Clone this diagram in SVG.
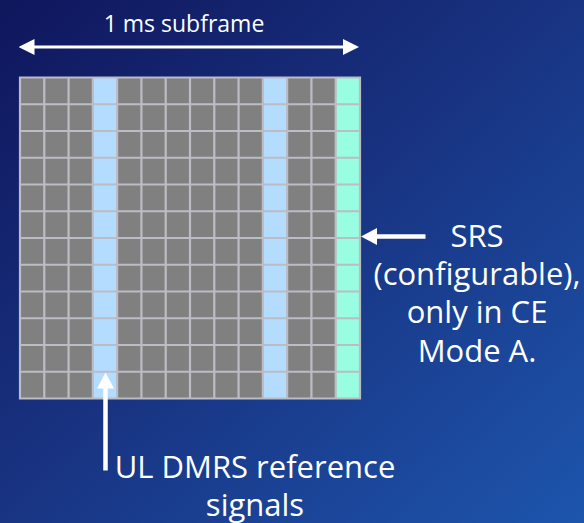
<svg xmlns="http://www.w3.org/2000/svg" width="584" height="523" viewBox="0 0 584 523">
  <defs>
    <linearGradient id="bg" x1="0" y1="0" x2="1" y2="1">
      <stop offset="0" stop-color="#0f165c"/>
      <stop offset="0.45" stop-color="#18317f"/>
      <stop offset="1" stop-color="#1d55ad"/>
    </linearGradient>
    <marker id="head" viewBox="0 0 16 16" refX="0.5" refY="8" markerWidth="16" markerHeight="16" markerUnits="userSpaceOnUse" orient="auto-start-reverse">
      <path d="M0,0 L16,8 L0,16 Z" fill="#ffffff"/>
    </marker>
    <marker id="head2" viewBox="0 0 16 17" refX="0.5" refY="8.5" markerWidth="16" markerHeight="17" markerUnits="userSpaceOnUse" orient="auto">
      <path d="M0,0 L16,8.5 L0,17 Z" fill="#ffffff"/>
    </marker>
    <style>
      .lbl { font-family: "Open Sans", "Liberation Sans", sans-serif; fill: #ffffff; text-anchor: middle; }
      .arrow { stroke: #ffffff; stroke-width: 3; fill: none; marker-end: url(#head); }
      .arrow.thick { stroke-width: 4.5; marker-end: url(#head2); }
      .cell { fill: #808080; }
      .dmrs { fill: #b3dcff; }
      .srs { fill: #98fde1; }
      .gridline { stroke: #bcbcc4; stroke-width: 2.2; fill: none; }
    </style>
  </defs>

  <rect x="0" y="0" width="584" height="523" fill="url(#bg)"/>

  <g id="grid">
    <rect class="cell" x="20" y="77.5" width="340" height="321"/>
    <rect class="dmrs" x="92.86" y="77.5" width="24.29" height="321"/>
    <rect class="dmrs" x="262.86" y="77.5" width="24.29" height="321"/>
    <rect class="srs" x="335.71" y="77.5" width="24.29" height="321"/>
    <path class="gridline" d="M20,77.5 H360 V398.5 H20 Z
      M44.29,77.5 V398.5 M68.57,77.5 V398.5 M92.86,77.5 V398.5 M117.14,77.5 V398.5
      M141.43,77.5 V398.5 M165.71,77.5 V398.5 M190,77.5 V398.5 M214.29,77.5 V398.5
      M238.57,77.5 V398.5 M262.86,77.5 V398.5 M287.14,77.5 V398.5 M311.43,77.5 V398.5
      M335.71,77.5 V398.5
      M20,104.25 H360 M20,131 H360 M20,157.75 H360 M20,184.5 H360 M20,211.25 H360
      M20,238 H360 M20,264.75 H360 M20,291.5 H360 M20,318.25 H360 M20,345 H360
      M20,371.75 H360"/>
  </g>

  <g id="label-subframe">
    <text class="lbl" x="184" y="31.5" font-size="23">1 ms subframe</text>
  </g>

  <g id="label-srs">
    <text class="lbl" font-size="31"><tspan x="477" y="246.5">SRS</tspan><tspan x="477" y="284.5">(configurable),</tspan><tspan x="477" y="323">only in CE</tspan><tspan x="477" y="361.5">Mode A.</tspan></text>
  </g>

  <g id="label-dmrs">
    <text class="lbl" font-size="31"><tspan x="255" y="477.5">UL DMRS reference</tspan><tspan x="255" y="515.5">signals</tspan></text>
  </g>

  <g id="connectors">
    <path class="arrow" d="M34,47 H343.5" style="marker-start: url(#head)"/>
    <path class="arrow thick" d="M425.5,236.5 H376.5"/>
    <path class="arrow thick" d="M105.5,470.5 V388"/>
  </g>
</svg>
